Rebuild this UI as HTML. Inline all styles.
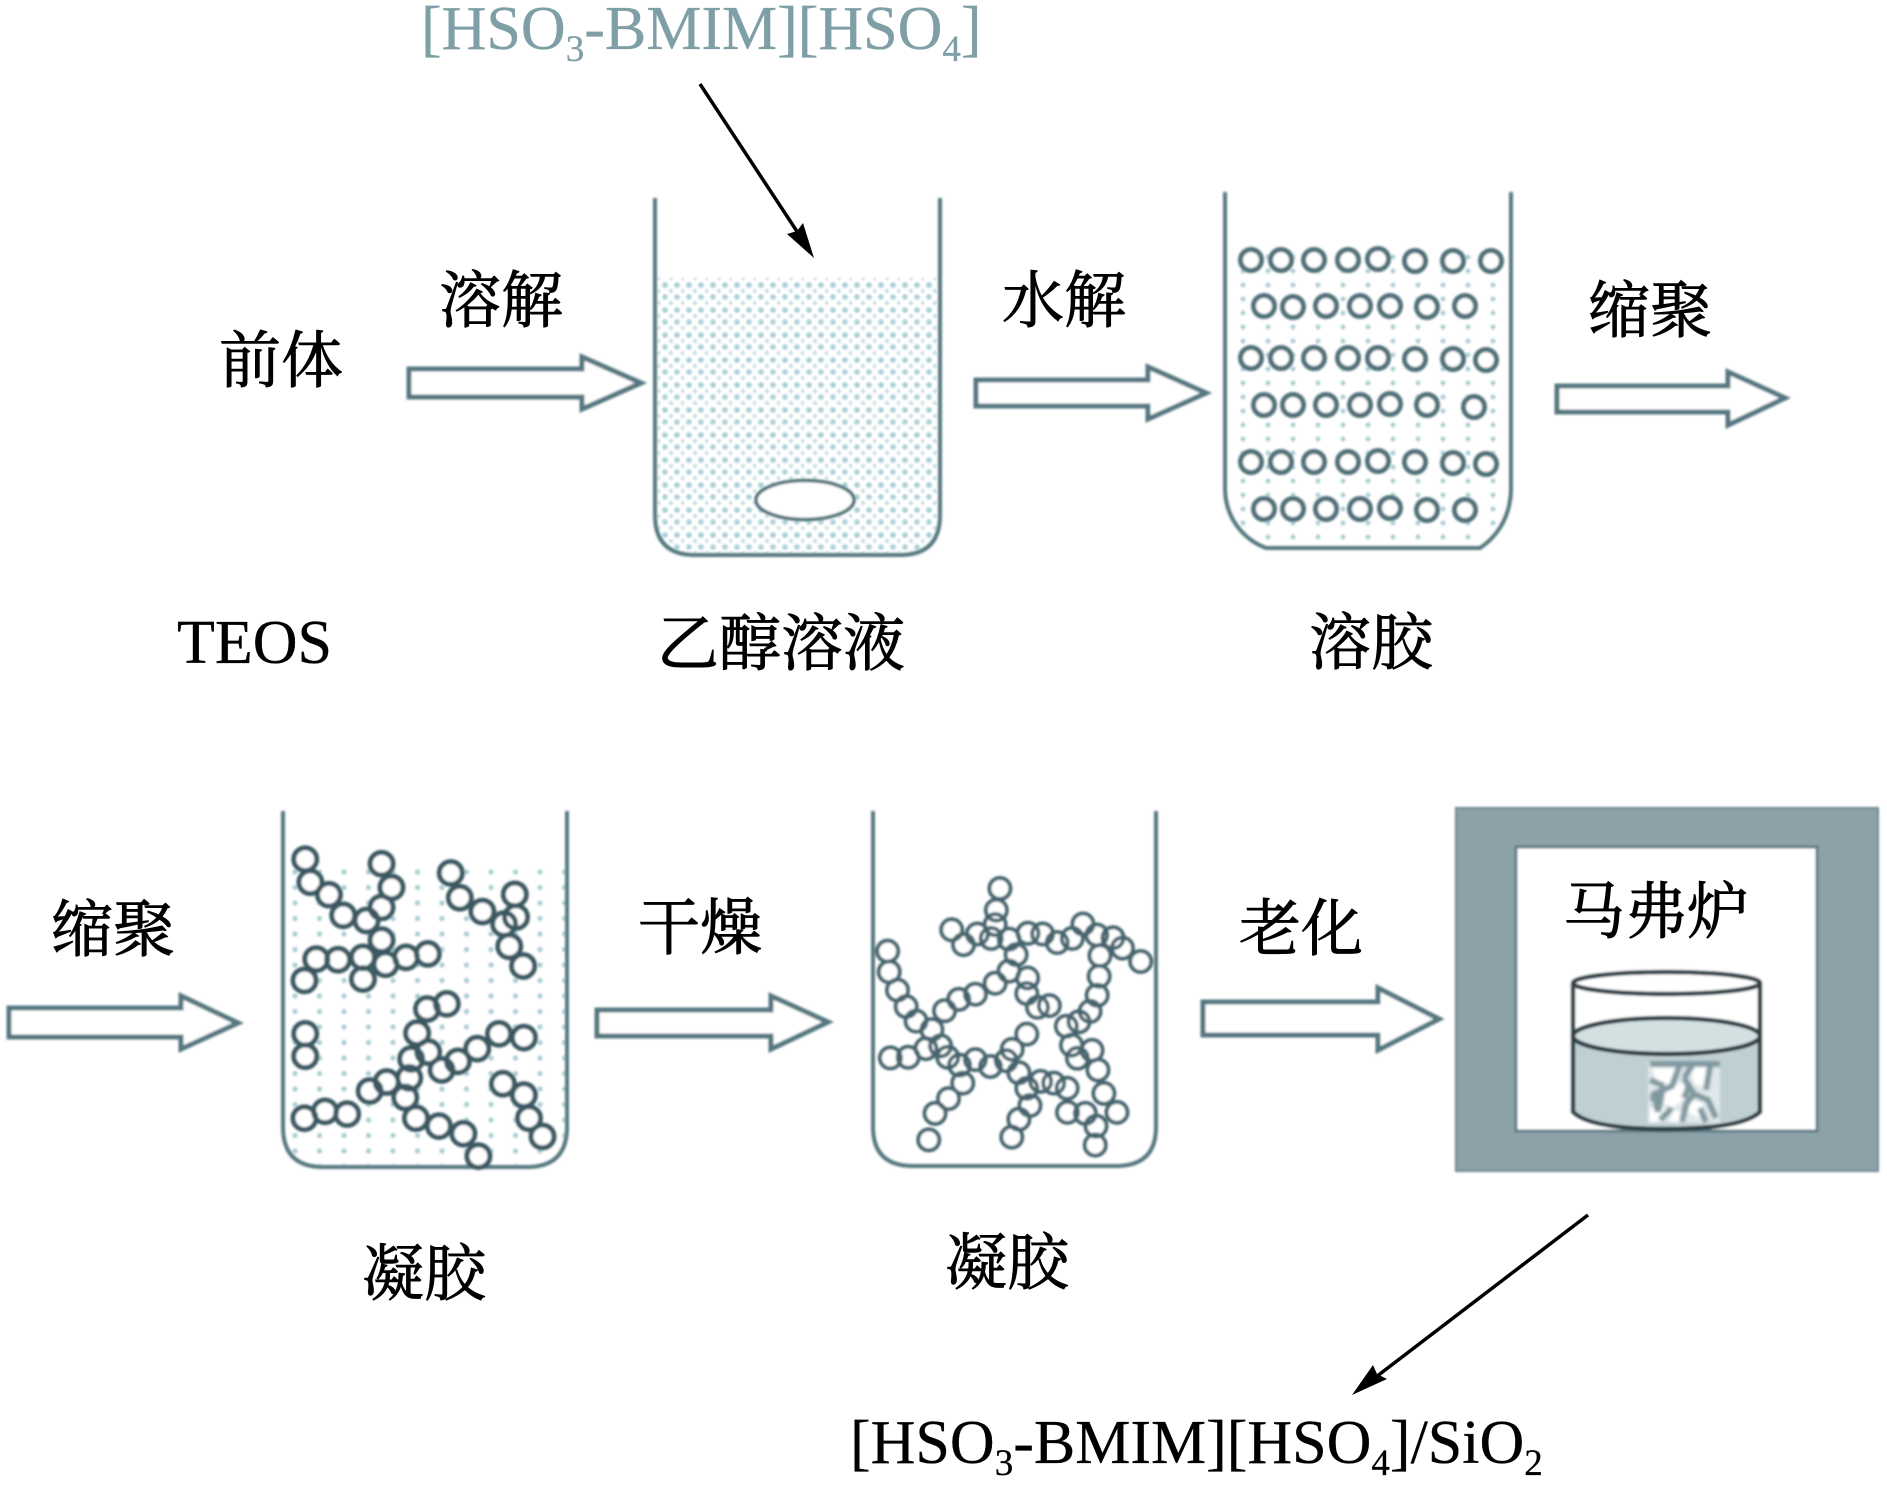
<!DOCTYPE html>
<html><head><meta charset="utf-8">
<style>
html,body{margin:0;padding:0;background:#fff;width:1887px;height:1486px;overflow:hidden}
svg{display:block}
.cn{font-family:"Liberation Serif","Noto Serif CJK SC",serif;font-size:62px;fill:#000;stroke:#000;stroke-width:.9px}
.la{font-family:"Liberation Serif",serif;fill:#000;stroke:#000;stroke-width:.3px}
.wall{fill:none;stroke:#55787f;stroke-width:4}
.blk{fill:#fff;stroke:#557780;stroke-width:5;stroke-linejoin:miter}
#g3 ellipse{rx:29px;ry:33px;vector-effect:non-scaling-stroke}
#g4 ellipse{rx:26.5px;ry:30.5px;vector-effect:non-scaling-stroke}
#g2 ellipse{rx:10.5px;ry:10.5px}
</style></head>
<body>
<svg width="1887" height="1486" viewBox="0 0 1887 1486" xmlns="http://www.w3.org/2000/svg">
<defs>
<filter id="b" x="-5%" y="-5%" width="110%" height="110%"><feGaussianBlur stdDeviation="1"/></filter>
<filter id="b2" x="-5%" y="-5%" width="110%" height="110%"><feGaussianBlur stdDeviation="1.100"/></filter>
<pattern id="p1" width="24" height="25" patternUnits="userSpaceOnUse" x="660" y="280">
<circle cx="5" cy="5" r="2.800" fill="#a3ccd3"/><circle cx="17" cy="5" r="2.800" fill="#a3ccd3"/>
<circle cx="5" cy="17" r="2.800" fill="#a9cfd6"/><circle cx="17" cy="17" r="2.800" fill="#a9cfd6"/>
<circle cx="11" cy="11" r="2" fill="#c3d8dc"/><circle cx="23" cy="11" r="2" fill="#c3d8dc"/>
<circle cx="11" cy="23" r="2" fill="#c3d8dc"/><circle cx="23" cy="23" r="2" fill="#c3d8dc"/>
</pattern>
<pattern id="p2" width="25" height="14" patternUnits="userSpaceOnUse" x="1230" y="250">
<circle cx="13" cy="7" r="2.400" fill="#a8cdd3"/>
</pattern>
<pattern id="p3" width="24.500" height="15.500" patternUnits="userSpaceOnUse" x="283" y="865">
<circle cx="12" cy="7" r="2.600" fill="#a8cdd3"/>
</pattern>
<clipPath id="c1"><path d="M655 278H940V515Q940 555 900 555H695Q655 555 655 515Z"/></clipPath>
<clipPath id="c2"><path d="M1225 248H1511V490C1510 520 1495 538 1480 548H1266C1245 540 1226 520 1225 490Z"/></clipPath>
<clipPath id="c3"><path d="M283 868H567V1127Q567 1167 527 1167H323Q283 1167 283 1127Z"/></clipPath>
<g id="g3">
<ellipse cx="772" cy="230"/><ellipse cx="785" cy="297"/><ellipse cx="832" cy="333"/><ellipse cx="868" cy="393"/><ellipse cx="927" cy="408"/><ellipse cx="965" cy="370"/><ellipse cx="990" cy="312"/><ellipse cx="965" cy="243"/>
<ellipse cx="965" cy="465"/><ellipse cx="918" cy="515"/><ellipse cx="975" cy="535"/><ellipse cx="1027" cy="515"/><ellipse cx="1082" cy="505"/><ellipse cx="855" cy="522"/><ellipse cx="800" cy="520"/><ellipse cx="770" cy="582"/><ellipse cx="918" cy="578"/>
<ellipse cx="1140" cy="270"/><ellipse cx="1163" cy="342"/><ellipse cx="1220" cy="382"/><ellipse cx="1305" cy="398"/><ellipse cx="1275" cy="418"/><ellipse cx="1302" cy="332"/><ellipse cx="1288" cy="483"/><ellipse cx="1323" cy="540"/>
<ellipse cx="1130" cy="650"/><ellipse cx="1080" cy="665"/><ellipse cx="1055" cy="735"/><ellipse cx="1040" cy="810"/><ellipse cx="1083" cy="790"/><ellipse cx="1158" cy="817"/><ellipse cx="1117" cy="842"/><ellipse cx="1207" cy="780"/><ellipse cx="1262" cy="737"/><ellipse cx="1325" cy="748"/><ellipse cx="1035" cy="865"/><ellipse cx="978" cy="877"/><ellipse cx="935" cy="903"/><ellipse cx="1025" cy="922"/><ellipse cx="1052" cy="982"/><ellipse cx="1110" cy="1005"/><ellipse cx="1172" cy="1027"/><ellipse cx="1210" cy="1092"/>
<ellipse cx="772" cy="737"/><ellipse cx="772" cy="802"/><ellipse cx="770" cy="982"/><ellipse cx="822" cy="962"/><ellipse cx="878" cy="970"/>
<ellipse cx="1272" cy="882"/><ellipse cx="1325" cy="915"/><ellipse cx="1338" cy="982"/><ellipse cx="1372" cy="1035"/>
</g>
<g id="g4">
<ellipse cx="1062" cy="315"/><ellipse cx="1053" cy="378"/><ellipse cx="1050" cy="420"/><ellipse cx="940" cy="435"/><ellipse cx="970" cy="478"/><ellipse cx="1005" cy="447"/><ellipse cx="1040" cy="460"/><ellipse cx="1085" cy="462"/><ellipse cx="1133" cy="445"/><ellipse cx="1170" cy="447"/><ellipse cx="1207" cy="472"/><ellipse cx="1245" cy="460"/><ellipse cx="1272" cy="418"/><ellipse cx="1307" cy="450"/><ellipse cx="1348" cy="458"/><ellipse cx="1372" cy="488"/><ellipse cx="1418" cy="527"/>
<ellipse cx="1103" cy="507"/><ellipse cx="1085" cy="555"/><ellipse cx="1050" cy="590"/><ellipse cx="1000" cy="622"/><ellipse cx="958" cy="637"/><ellipse cx="922" cy="670"/><ellipse cx="890" cy="725"/>
<ellipse cx="778" cy="497"/><ellipse cx="782" cy="557"/><ellipse cx="803" cy="610"/><ellipse cx="825" cy="658"/><ellipse cx="850" cy="700"/>
<ellipse cx="1132" cy="575"/><ellipse cx="1130" cy="620"/><ellipse cx="1157" cy="660"/><ellipse cx="1187" cy="655"/><ellipse cx="1230" cy="715"/><ellipse cx="1262" cy="702"/><ellipse cx="1290" cy="672"/><ellipse cx="1308" cy="625"/><ellipse cx="1313" cy="570"/><ellipse cx="1315" cy="510"/>
<ellipse cx="1130" cy="738"/><ellipse cx="1093" cy="782"/><ellipse cx="1078" cy="815"/><ellipse cx="1110" cy="850"/><ellipse cx="1130" cy="895"/><ellipse cx="1138" cy="945"/><ellipse cx="1110" cy="985"/><ellipse cx="1092" cy="1037"/>
<ellipse cx="1243" cy="770"/><ellipse cx="1258" cy="808"/><ellipse cx="1295" cy="785"/><ellipse cx="1310" cy="842"/><ellipse cx="1325" cy="910"/><ellipse cx="1358" cy="965"/><ellipse cx="1278" cy="968"/><ellipse cx="1233" cy="965"/><ellipse cx="1305" cy="1005"/><ellipse cx="1303" cy="1060"/>
<ellipse cx="1165" cy="875"/><ellipse cx="1198" cy="880"/><ellipse cx="1232" cy="895"/>
<ellipse cx="785" cy="807"/><ellipse cx="830" cy="805"/><ellipse cx="875" cy="780"/><ellipse cx="912" cy="772"/><ellipse cx="930" cy="805"/><ellipse cx="960" cy="828"/><ellipse cx="968" cy="880"/><ellipse cx="932" cy="925"/><ellipse cx="898" cy="968"/><ellipse cx="882" cy="1045"/>
<ellipse cx="1000" cy="812"/><ellipse cx="1038" cy="832"/>
</g>
<g id="g2">
<ellipse cx="1251" cy="260"/><ellipse cx="1281" cy="260"/><ellipse cx="1314" cy="260"/><ellipse cx="1348" cy="260"/><ellipse cx="1378" cy="259"/><ellipse cx="1415" cy="261"/><ellipse cx="1453" cy="261"/><ellipse cx="1491" cy="261"/>
<ellipse cx="1264" cy="306"/><ellipse cx="1293" cy="307"/><ellipse cx="1326" cy="306"/><ellipse cx="1360" cy="306"/><ellipse cx="1390" cy="306"/><ellipse cx="1427" cy="307"/><ellipse cx="1465" cy="306"/>
<ellipse cx="1251" cy="358"/><ellipse cx="1281" cy="358"/><ellipse cx="1314" cy="358"/><ellipse cx="1348" cy="358"/><ellipse cx="1378" cy="358"/><ellipse cx="1415" cy="359"/><ellipse cx="1453" cy="359"/><ellipse cx="1486" cy="360"/>
<ellipse cx="1264" cy="405"/><ellipse cx="1293" cy="405"/><ellipse cx="1326" cy="405"/><ellipse cx="1360" cy="405"/><ellipse cx="1390" cy="404"/><ellipse cx="1427" cy="405"/><ellipse cx="1474" cy="407"/>
<ellipse cx="1251" cy="462"/><ellipse cx="1281" cy="462"/><ellipse cx="1314" cy="462"/><ellipse cx="1348" cy="462"/><ellipse cx="1378" cy="461"/><ellipse cx="1415" cy="462"/><ellipse cx="1453" cy="463"/><ellipse cx="1486" cy="464"/>
<ellipse cx="1264" cy="509"/><ellipse cx="1293" cy="509"/><ellipse cx="1326" cy="509"/><ellipse cx="1360" cy="509"/><ellipse cx="1390" cy="508"/><ellipse cx="1427" cy="510"/><ellipse cx="1465" cy="510"/>
</g>
</defs>

<g filter="url(#b)">
<!-- beaker 1 -->
<rect x="655" y="278" width="285" height="277" fill="url(#p1)" clip-path="url(#c1)"/>
<path class="wall" d="M655 198V515Q655 555 695 555H900Q940 555 940 515V198"/>
<ellipse cx="805" cy="500" rx="49" ry="19.500" fill="#fff" stroke="#4d6f77" stroke-width="3.500"/>

<!-- block arrows -->
<path class="blk" d="M409 369H582V357L641 383L582 409V397H409Z"/>
<path class="blk" d="M976 380H1148V367L1206 393L1148 419V406H976Z"/>
<path class="blk" d="M1557 386H1728V372L1785 398L1728 425V412H1557Z"/>
<path class="blk" d="M9 1008H181V996L238 1023L181 1049V1037H9Z"/>
<path class="blk" d="M597 1010H771V996L828 1022L771 1049V1036H597Z"/>
<path class="blk" d="M1203 1002H1378V988L1439 1019L1378 1050V1035H1203Z"/>

<!-- beaker 2 -->
<rect x="1225" y="248" width="286" height="300" fill="url(#p2)" clip-path="url(#c2)"/>
<path class="wall" d="M1225 192V490C1226 520 1245 540 1266 548H1480C1495 538 1510 520 1511 490V192"/>
<use href="#g2" fill="#fff" stroke="#4f7078" stroke-width="5"/>

<!-- beaker 3 -->
<rect x="283" y="868" width="284" height="299" fill="url(#p3)" clip-path="url(#c3)"/>
<path class="wall" d="M283 811V1127Q283 1167 323 1167H527Q567 1167 567 1127V811"/>
<g transform="translate(0,780) scale(0.3954,0.3444)">
<use href="#g3" fill="#fff" stroke="none"/>
<use href="#g3" fill="none" stroke="#3a5962" stroke-width="5"/>
</g>

<!-- beaker 4 -->
<path class="wall" d="M873 811V1127Q873 1166 913 1166H1116Q1156 1166 1156 1127V811"/>
<g transform="translate(580,780) scale(0.3954,0.3444)">
<use href="#g4" fill="#fff" stroke="none"/>
<use href="#g4" fill="none" stroke="#45656e" stroke-width="4"/>
</g>

<!-- furnace -->
<rect x="1456" y="808" width="422" height="363" fill="#8ca1a8" stroke="#6d8992" stroke-width="2"/>
<rect x="1516" y="847" width="301" height="284" fill="#fff" stroke="#5f7c85" stroke-width="3"/>

<!-- dish -->
<path d="M1573 1036V1112Q1590 1129 1666 1129Q1742 1129 1760 1112V1036Z" fill="#bfcfd2"/>
<g filter="url(#b2)">
<rect x="1648" y="1063" width="72" height="60" fill="#dfe8ea"/>
<path d="M1652 1068h26l-6 16-14 2zM1690 1066h22l-4 22-14-4zM1664 1090l18-8 6 14-16 12-10-6zM1692 1100l12 4-6 14-10-6zM1650 1108h16l-2 14h-14zM1672 1110l12 2-2 10h-12z" fill="#fff"/>
<path d="M1650 1064h70M1680 1064l-8 22-18 8 4 18M1684 1078l10 16 14 6 8 18M1696 1092l-10 12-4 18M1662 1092l-4 20M1692 1066l-8 12M1710 1066l-4 24M1650 1098h14M1672 1108l-12 12M1650 1080l14 6M1690 1084l-6 14M1700 1108l6 14" fill="none" stroke="#7f989f" stroke-width="6"/>
</g>
<path d="M1573 983V1112Q1590 1129 1666 1129Q1742 1129 1760 1112V983" fill="none" stroke="#2f4047" stroke-width="4.500"/>
<ellipse cx="1666.500" cy="983" rx="93.500" ry="11" fill="#fff" stroke="#2f4047" stroke-width="4.500"/>
<ellipse cx="1666.500" cy="1036" rx="93.500" ry="18" fill="#d3e0e2" stroke="#2f4047" stroke-width="4.500"/>
</g>

<!-- black arrows -->
<line x1="700" y1="84" x2="800" y2="236" stroke="#000" stroke-width="3.500"/>
<path d="M814 258L787 234L797 231L803 223Z" fill="#000"/>
<line x1="1588" y1="1215" x2="1372" y2="1380" stroke="#000" stroke-width="3.500"/>
<path d="M1352 1395L1373 1365L1377 1374L1387 1379Z" fill="#000"/>

<!-- labels -->
<text class="la" x="421" y="49" font-size="62" style="fill:#7f9fa6;stroke:#7f9fa6">[HSO<tspan font-size="37" dy="12">3</tspan><tspan dy="-12">-BMIM][HSO</tspan><tspan font-size="37" dy="12">4</tspan><tspan dy="-12">]</tspan></text>
<text class="cn" x="219" y="382">前体</text>
<text class="cn" x="439" y="322">溶解</text>
<text class="cn" x="1002" y="322">水解</text>
<text class="cn" x="1588" y="332">缩聚</text>
<text class="la" x="177" y="663" font-size="62">TEOS</text>
<text class="cn" x="657" y="665">乙醇溶液</text>
<text class="cn" x="1309" y="664">溶胶</text>
<text class="cn" x="51" y="951">缩聚</text>
<text class="cn" x="638" y="949">干燥</text>
<text class="cn" x="1239" y="950">老化</text>
<text class="cn" x="1563" y="933">马弗炉</text>
<text class="cn" x="362" y="1295">凝胶</text>
<text class="cn" x="945" y="1284">凝胶</text>
<text class="la" x="850" y="1463" font-size="62">[HSO<tspan font-size="37" dy="12">3</tspan><tspan dy="-12">-BMIM][HSO</tspan><tspan font-size="37" dy="12">4</tspan><tspan dy="-12">]/SiO</tspan><tspan font-size="37" dy="12">2</tspan></text>
</svg>
</body></html>
